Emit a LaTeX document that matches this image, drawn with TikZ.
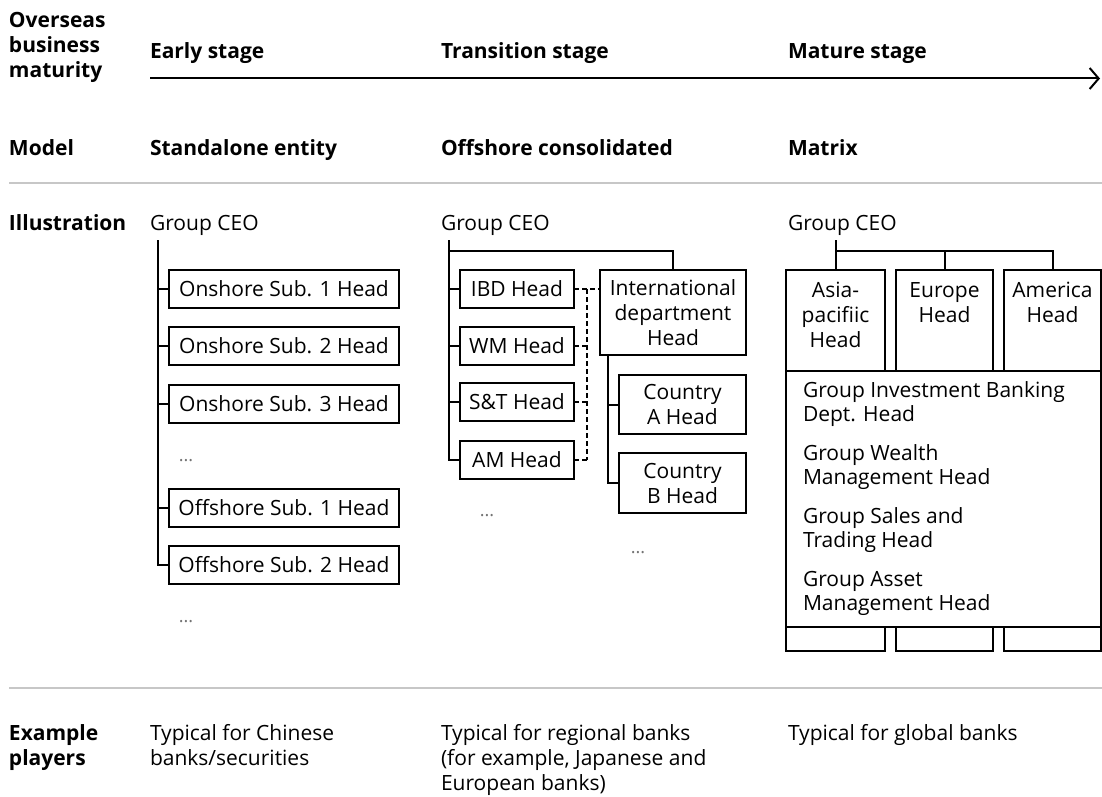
\documentclass[tikz,border=0pt]{standalone}
\usepackage{fontspec}
\setmainfont{Open Sans}
\usetikzlibrary{arrows.meta}

% multi-line text nodes are anchored at the baseline of their last line
\begin{document}
\begin{tikzpicture}[x=1pt,y=-1pt,
  every node/.style={inner sep=0pt, outer sep=0pt, font=\fontsize{21}{25}\selectfont},
  hdr/.style={font=\fontsize{21}{25}\selectfont\bfseries, anchor=base west, align=left},
  txt/.style={anchor=base west, align=left},
  grouptxt/.style={anchor=base west, align=left, font=\fontsize{21}{24}\selectfont},
  box/.style={draw, line width=2pt, align=center, rectangle},
  link/.style={line width=2pt},
  dashlink/.style={line width=2pt, dash pattern=on 5pt off 3pt},
  rule/.style={line width=1.8pt, draw=black!22},
  more/.style={anchor=base, text=black!55, font=\fontsize{18}{20}\selectfont}
]
\useasboundingbox (0,0) rectangle (1102,797);

% ---- header rows ----
\node[hdr] (hmat) at (9,78) {Overseas\\business\\maturity};
\node[hdr] (early) at (150,59) {Early stage};
\node[hdr] (trans) at (441,59) {Transition stage};
\node[hdr] (mature) at (788,59) {Mature stage};
\coordinate (arrS) at (150,78.5);
\coordinate (arrE) at (1100,78.5);
\draw[link, -{Straight Barb[length=9pt,width=21pt]}] (arrS) -- (arrE);

\node[hdr] (hmodel) at (9,155) {Model};
\node[hdr] (mA) at (150,155) {Standalone entity};
\node[hdr] (mB) at (441,155) {Offshore consolidated};
\node[hdr] (mC) at (788,155) {Matrix};

\coordinate (r1L) at (9,183);
\coordinate (r1R) at (1102,183);
\draw[rule] (r1L) -- (r1R);

\node[hdr] (hill) at (9,230) {Illustration};

% ---- standalone entity ----
\node[txt] (ceoA) at (150,230) {Group CEO};
\node[box, minimum width=230pt, minimum height=38pt] (on1) at (284,289) {Onshore Sub. 1 Head};
\node[box, minimum width=230pt, minimum height=38pt] (on2) at (284,346) {Onshore Sub. 2 Head};
\node[box, minimum width=230pt, minimum height=38pt] (on3) at (284,404) {Onshore Sub. 3 Head};
\node[more] (dA1) at (186,461) {...};
\node[box, minimum width=230pt, minimum height=38pt] (off1) at (284,508) {Offshore Sub. 1 Head};
\node[box, minimum width=230pt, minimum height=38pt] (off2) at (284,565) {Offshore Sub. 2 Head};
\node[more] (dA2) at (186,622) {...};
\coordinate (trunkA) at (158,240);
\draw[link] (trunkA) |- (off2.west);
\foreach \b in {on1,on2,on3,off1}
  \draw[link] (trunkA |- \b.west) -- (\b.west);

% ---- offshore consolidated ----
\node[txt] (ceoB) at (441,230) {Group CEO};
\node[box, minimum width=114pt, minimum height=38pt] (ibd) at (517,289) {IBD Head};
\node[box, minimum width=114pt, minimum height=38pt] (wm) at (517,345.5) {WM Head};
\node[box, minimum width=114pt, minimum height=38pt] (st) at (517,402) {S\&T Head};
\node[box, minimum width=114pt, minimum height=38pt] (am) at (517,459.5) {AM Head};
\node[more] (dB1) at (487,516) {...};
\node[box, minimum width=146pt, minimum height=85pt] (intl) at (673,312.5) {International\\department\\Head};
\node[box, minimum width=127pt, minimum height=59pt] (ca) at (682.5,404.5) {Country\\A Head};
\node[box, minimum width=127pt, minimum height=60pt] (cb) at (682.5,483) {Country\\B Head};
\node[more] (dC1) at (638,553) {...};
\coordinate (trunkB) at (449,240);
\coordinate (barB) at (449,251);
\draw[link] (trunkB) |- (am.west);
\foreach \b in {ibd,wm,st}
  \draw[link] (trunkB |- \b.west) -- (\b.west);
\draw[link] (barB) -| (intl.north);
\coordinate (dashB) at (587,289);
\draw[dashlink] (ibd.east) -- (ibd.east -| intl.west);
\draw[dashlink] (dashB) -- (dashB |- am.east);
\foreach \b in {wm,st,am}
  \draw[dashlink] (\b.east) -- (\b.east -| dashB);
\coordinate (trunkC) at (608,355);
\draw[link] (trunkC) |- (cb.west);
\draw[link] (trunkC |- ca.west) -- (ca.west);

% ---- matrix ----
\node[txt] (ceoC) at (788,230) {Group CEO};
\node[box, minimum width=99pt, minimum height=101pt] (asia) at (835.5,320.5) {};
\node[box, minimum width=97pt, minimum height=101pt] (europe) at (944.5,320.5) {};
\node[box, minimum width=97pt, minimum height=101pt] (america) at (1052.5,320.5) {};
\node[anchor=base, align=center] (asiaT) at (835.5,347) {Asia-\\pacifiic\\Head};
\node[anchor=base, align=center] (europeT) at (944.5,322) {Europe\\Head};
\node[anchor=base, align=center] (americaT) at (1052.5,322) {America\\Head};
\node[box, minimum width=315pt, minimum height=256pt] (grp) at (943.5,499) {};
\node[grouptxt] (g1) at (803,421) {Group Investment Banking\\Dept. Head};
\node[grouptxt] (g2) at (803,484) {Group Wealth\\Management Head};
\node[grouptxt] (g3) at (803,547) {Group Sales and\\Trading Head};
\node[grouptxt] (g4) at (803,610) {Group Asset\\Management Head};
\node[box, minimum width=99pt, minimum height=24pt] (asiaB) at (835.5,639) {};
\node[box, minimum width=97pt, minimum height=24pt] (europeB) at (944.5,639) {};
\node[box, minimum width=97pt, minimum height=24pt] (americaB) at (1052.5,639) {};
\coordinate (trunkD) at (835.5,240);
\coordinate (barD) at (835.5,251);
\draw[link] (trunkD) -- (asia.north);
\draw[link] (barD) -| (europe.north);
\draw[link] (barD) -| (america.north);

% ---- example players ----
\coordinate (r2L) at (9,688);
\coordinate (r2R) at (1102,688);
\draw[rule] (r2L) -- (r2R);
\node[hdr] (hex) at (9,765) {Example\\players};
\node[txt] (exA) at (150,765) {Typical for Chinese\\banks/securities};
\node[txt] (exB) at (441,790) {Typical for regional banks\\(for example, Japanese and\\European banks)};
\node[txt] (exC) at (788,740) {Typical for global banks};
\end{tikzpicture}
\end{document}
